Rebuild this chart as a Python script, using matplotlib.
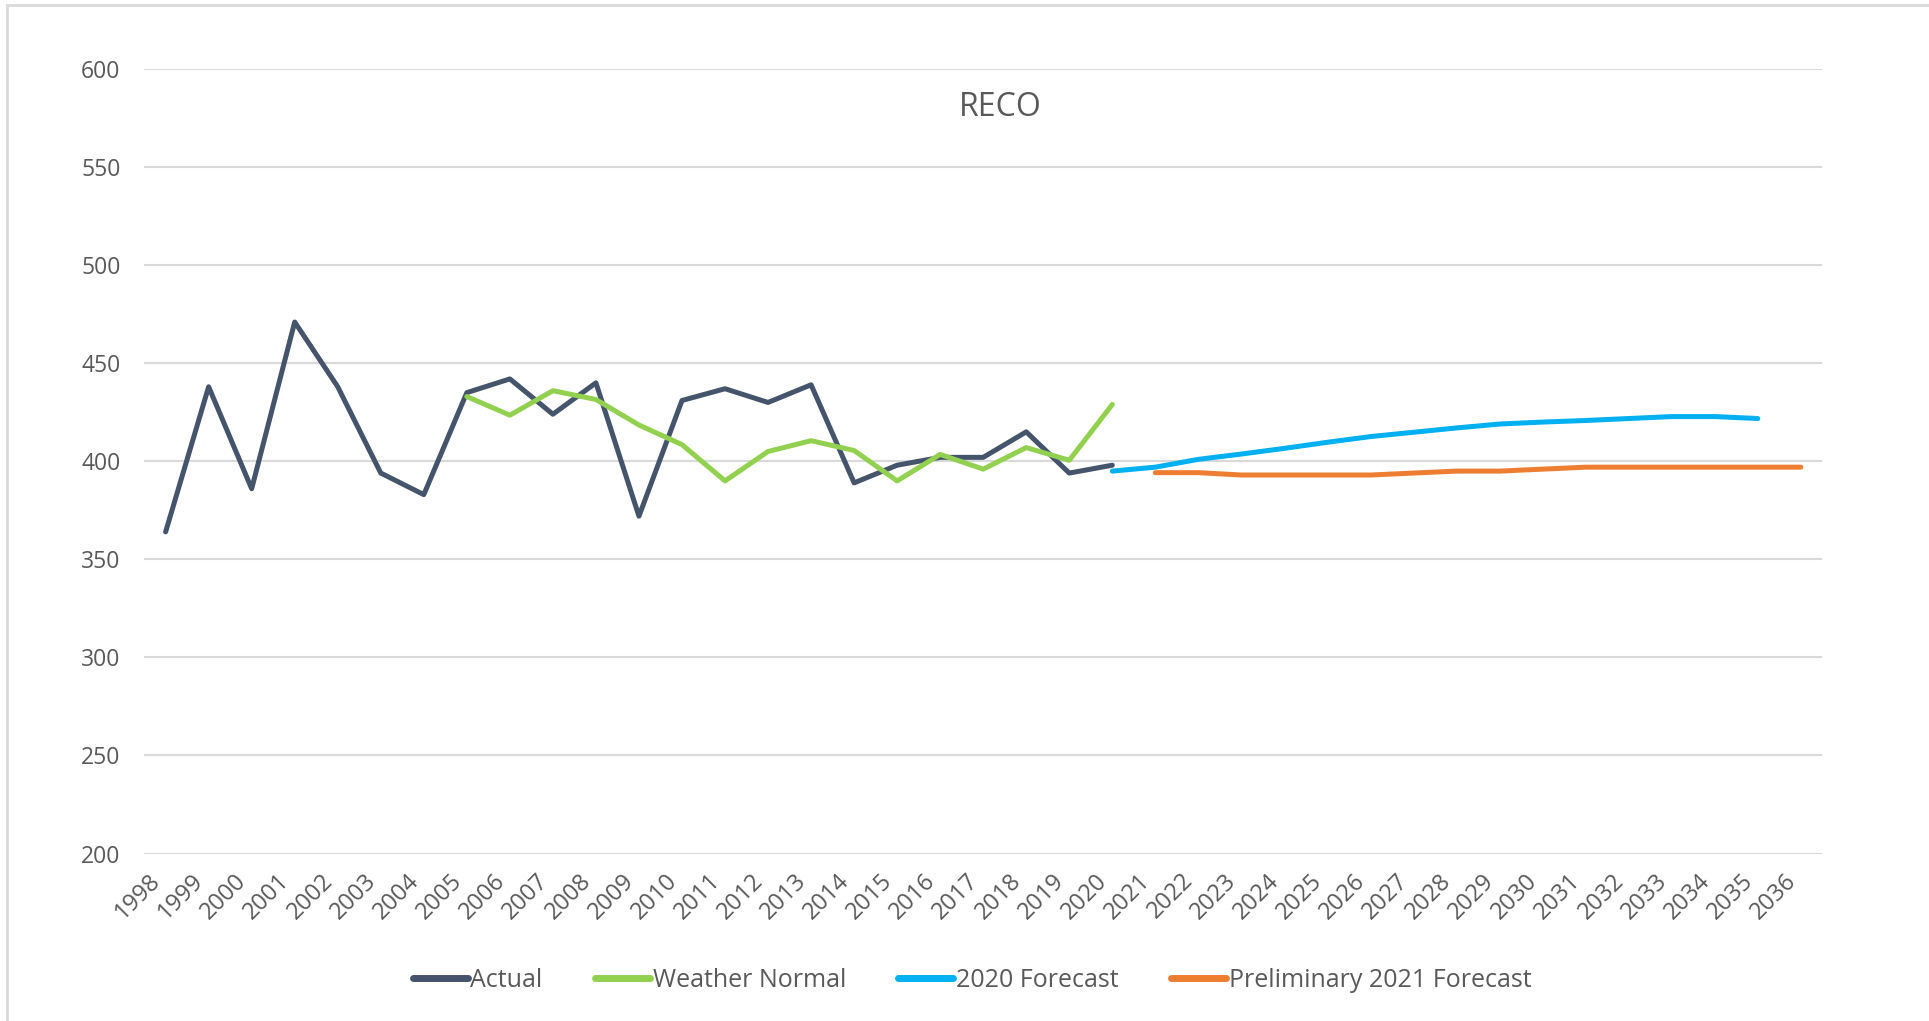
import numpy as np
import matplotlib.pyplot as plt
from matplotlib.patches import Rectangle

plt.rcParams['font.family'] = ['Open Sans', 'DejaVu Sans']

years = list(range(1998, 2037))

actual_years = list(range(1998, 2021))
actual = [364, 438, 386, 471, 438, 394, 383, 435, 442, 424, 440, 372,
          431, 437, 430, 439, 389, 398, 402, 402, 415, 394, 398]

wn_years = list(range(2005, 2021))
weather_normal = [433, 423.5, 436, 431.5, 418.5, 408.5, 390, 405, 410.5,
                  405.5, 390, 403.5, 396, 407, 400.5, 429]

f2020_years = list(range(2020, 2036))
forecast_2020 = [395, 397, 401, 403.7, 406.6, 409.7, 412.6, 414.8, 417,
                 419, 420, 420.8, 421.8, 422.8, 422.8, 421.8]

f2021_years = list(range(2021, 2037))
forecast_2021 = [394.2, 394.2, 393, 393, 393, 393, 394, 395, 395, 396,
                 397, 397, 397, 397, 397, 397]

yticks = [200, 250, 300, 350, 400, 450, 500, 550, 600]

fig = plt.figure(figsize=(19.29, 10.21), dpi=100)
ax = fig.add_axes([0.0747, 0.164, 0.87, 0.7684])

lw = 3.6
ax.plot(actual_years, actual, color='#44546A', lw=lw, solid_capstyle='round', solid_joinstyle='round', label='Actual')
ax.plot(wn_years, weather_normal, color='#92D050', lw=lw, solid_capstyle='round', solid_joinstyle='round', label='Weather Normal')
ax.plot(f2020_years, forecast_2020, color='#00B0F0', lw=lw, solid_capstyle='round', solid_joinstyle='round', label='2020 Forecast')
ax.plot(f2021_years, forecast_2021, color='#ED7D31', lw=lw, solid_capstyle='round', solid_joinstyle='round', label='Preliminary 2021 Forecast')

ax.set_xlim(1997.5, 2036.5)
ax.set_ylim(200, 600)
ax.set_yticks(yticks)
ax.set_xticks(years)
ax.set_xticklabels([str(y) for y in years], rotation=45, ha='right', va='top')
ax.tick_params(axis='both', length=0, colors='#595959')
ax.tick_params(axis='y', pad=17, labelsize=16.5)
ax.tick_params(axis='x', pad=11, labelsize=17)
ax.grid(axis='y', color='#D9D9D9', lw=1.5)
ax.set_axisbelow(True)
for s in ax.spines.values():
    s.set_visible(False)

ax.text(0.51, 0.951, 'RECO', transform=ax.transAxes, ha='center', va='center',
        fontsize=23, color='#595959')

leg = ax.legend(loc='center', bbox_to_anchor=(972 / 1929, 1 - 980 / 1021),
                bbox_transform=fig.transFigure, ncol=4, frameon=False,
                fontsize=18, handlelength=2.2, handletextpad=0.1,
                columnspacing=2.1, labelcolor='#595959')
for h in leg.get_lines():
    h.set_linewidth(5)

fig.patches.append(Rectangle((7 / 1929, -0.1), 1.2, 1 - 5 / 1021 + 0.1,
                             transform=fig.transFigure, fill=False,
                             edgecolor='#D9D9D9', lw=2))

fig.savefig('out.png', dpi=100)
